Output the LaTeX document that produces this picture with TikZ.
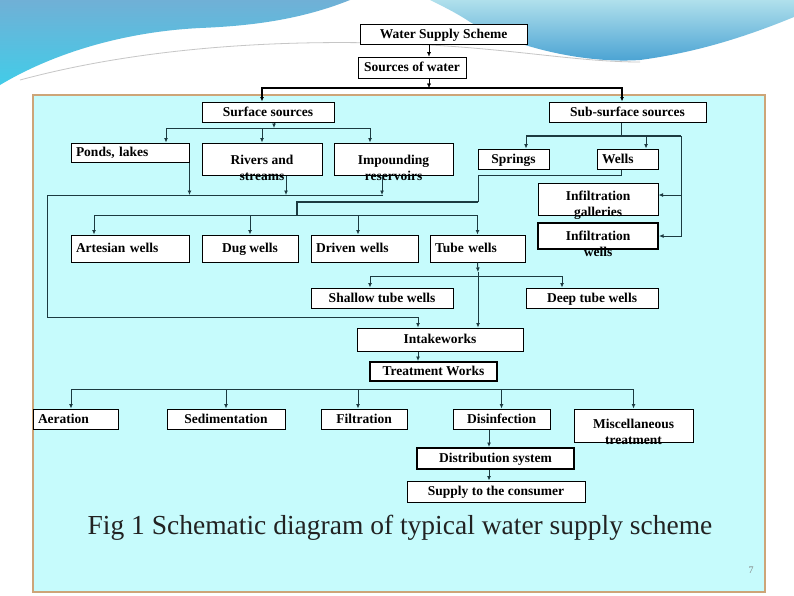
\documentclass[tikz,border=0pt]{standalone}
\usepackage{fontspec}
\setmainfont{Liberation Serif}
\usetikzlibrary{arrows.meta}
\definecolor{skyA}{RGB}{112,176,214}
\definecolor{skyB}{RGB}{66,204,232}
\definecolor{skyC}{RGB}{176,224,236}
\definecolor{skyD}{RGB}{70,160,210}
\definecolor{panel}{RGB}{198,251,252}
\definecolor{rim}{RGB}{205,165,120}
\definecolor{wire}{RGB}{28,58,64}
\definecolor{capcol}{RGB}{34,34,34}
\newcommand\boxfont{\bfseries\fontsize{13.5}{16}\selectfont}
\begin{document}
\begin{tikzpicture}[x=1pt,y=-1pt,
  box/.style={draw, fill=white, line width=1pt, inner sep=0pt, font=\boxfont, text height=8.5pt, text depth=0.5pt},
  lbox/.style={box, align=left, inner xsep=5pt},
  txt/.style={font=\boxfont, align=center, inner sep=0pt},
  heavy/.style={line width=2pt},
  arr/.style={-{Latex[length=4.5pt,width=4pt]}},
  lnk/.style={draw=wire, line width=1pt}]
\useasboundingbox (0,0) rectangle (794,595);
\fill[white] (0,0) rectangle (794,595);
\shade[top color=skyA, bottom color=skyB] (0,0) -- (350,0) .. controls (300,20) and (250,26) .. (200,28) .. controls (120,32) and (50,55) .. (0,85) -- cycle;
\shade[top color=skyC, bottom color=skyD] (430,0) -- (794,0) -- (794,17) .. controls (750,35) and (700,52) .. (640,60) .. controls (580,64) and (510,45) .. (470,22) .. controls (455,12) and (440,5) .. (430,0) -- cycle;
\draw[gray!45, line width=0.8pt] (20,80) .. controls (150,45) and (300,38) .. (430,45) .. controls (520,50) and (580,62) .. (640,62);
\filldraw[fill=panel, draw=rim, line width=2pt] (33,95) rectangle (765,592);
\node[box, minimum width=167pt, minimum height=20pt] (wss) at (443.5,34){Water Supply Scheme};
\node[box, minimum width=108pt, minimum height=21pt] (sow) at (412,67.5){Sources of water};
\node[box, minimum width=132pt, minimum height=20pt] (surf) at (268,112){Surface sources};
\node[box, minimum width=157pt, minimum height=20pt] (sub) at (627.5,112){Sub-surface sources};
\node[lbox, text width=108pt, minimum height=19pt] (pond) at (130,152.5){Ponds, lakes};
\node[box, minimum width=120pt, minimum height=32pt] (riv) at (262,159){};
\node[txt] (rivt) at (262,168){Rivers and\\streams};
\node[box, minimum width=119pt, minimum height=32pt] (imp) at (393.5,159){};
\node[txt] (impt) at (393.5,168){Impounding\\reservoirs};
\node[box, minimum width=71pt, minimum height=20pt] (spr) at (513.5,159){Springs};
\node[lbox, text width=51pt, minimum height=20pt] (well) at (627.5,159){Wells};
\node[box, minimum width=120pt, minimum height=32pt] (igal) at (598,199){};
\node[txt] (igalt) at (598,205){Infiltration\\galleries};
\node[box, heavy, minimum width=120pt, minimum height=26pt] (iwel) at (598,236){};
\node[txt] (iwelt) at (598,244){Infiltration\\wells};
\node[lbox, text width=108pt, minimum height=27pt] (art) at (130,248.5){Artesian wells};
\node[box, minimum width=96pt, minimum height=27pt] (dug) at (250,248.5){Dug wells};
\node[lbox, text width=97pt, minimum height=27pt] (drv) at (364.5,248.5){Driven wells};
\node[lbox, text width=85pt, minimum height=27pt] (tub) at (477.5,248.5){Tube wells};
\node[box, minimum width=142pt, minimum height=20pt] (sht) at (382,298){Shallow tube wells};
\node[box, minimum width=132pt, minimum height=20pt] (dep) at (592,298){Deep tube wells};
\node[box, minimum width=166pt, minimum height=23pt] (itk) at (440,339.5){Intakeworks};
\node[box, heavy, minimum width=127pt, minimum height=19pt] (trt) at (433.5,371.5){Treatment Works};
\node[lbox, text width=75pt, minimum height=20pt] (aer) at (75.5,419){Aeration};
\node[box, minimum width=118pt, minimum height=20pt] (sed) at (226,419){Sedimentation};
\node[box, minimum width=86pt, minimum height=20pt] (fil) at (364,419){Filtration};
\node[box, minimum width=97pt, minimum height=20pt] (dis) at (501.5,419){Disinfection};
\node[box, minimum width=119pt, minimum height=33pt] (mis) at (633.5,425.5){};
\node[txt] (mist) at (633.5,432){Miscellaneous\\treatment};
\node[box, heavy, minimum width=157pt, minimum height=21pt] (dst) at (495.5,458.5){Distribution system};
\node[box, minimum width=178pt, minimum height=21pt] (sup) at (496,491.5){Supply to the consumer};
\coordinate (j0) at (429,88);
\draw[arr] (wss.south -| j0) -- (sow.north -| j0);
\draw[arr] (sow.south -| j0) -- (j0);
\draw[heavy,arr] (j0) -| (surf.north -| 262,0);
\draw[heavy,arr] (j0) -| (sub.north -| 622,0);
\coordinate (j1) at (274,128);
\draw[lnk,arr] (surf.south -| j1) -- (j1);
\draw[lnk,arr] (j1) -| (pond.north -| 166,0);
\draw[lnk,arr] (j1) -| (riv.north);
\draw[lnk,arr] (j1) -| (imp.north -| 370,0);
\coordinate (j2) at (47,195);
\draw[lnk,arr] (pond.south east) -- (pond.south east |- j2);
\draw[lnk,arr] (riv.south -| 286,0) -- (j2 -| 286,0);
\draw[lnk,arr] (imp.south -| 382,0) -- (j2 -| 382,0);
\draw[lnk,arr] (j2 -| 383,0) -- (j2) -- (47,317) -| (itk.north -| 418,0);
\coordinate (j3) at (297,215);
\draw[lnk] (well.south -| 621,0) -- (621,175) -| (478,202);
\draw[lnk,heavy] (478,202) -| (j3);
\draw[lnk,arr] (j3) -| (art.north -| 94,0);
\draw[lnk,arr] (j3) -| (dug.north);
\draw[lnk,arr] (j3) -| (drv.north -| 358,0);
\draw[lnk,arr] (j3) -| (tub.north);
\coordinate (j4) at (621,136);
\draw[lnk] (sub.south -| j4) -- (j4);
\draw[lnk,heavy] (526,136) -- (681,136);
\draw[lnk,arr] (j4) -| (spr.north -| 526,0);
\draw[lnk,arr] (j4) -| (well.north -| 646,0);
\draw[lnk,arr] (j4) -| (681,195) -- (igal.east |- 0,195);
\draw[lnk,arr] (681,195) |- (iwel.east);
\coordinate (j5) at (478,272);
\draw[lnk,arr] (tub.south) -- (j5);
\draw[lnk,arr] (j5) -- (itk.north -| j5);
\draw[lnk,arr] (j5 |- 0,276) -| (sht.north -| 370,0);
\draw[lnk,arr] (j5 |- 0,276) -| (dep.north -| 562,0);
\draw[lnk,arr] (itk.south -| 418,0) -- (trt.north -| 418,0);
\coordinate (j6) at (433.5,389);
\draw[lnk,arr] (j6) -| (aer.north -| 71,0);
\draw[lnk,arr] (j6) -| (sed.north);
\draw[lnk,arr] (j6) -| (fil.north -| 358,0);
\draw[lnk,arr] (j6) -| (dis.north);
\draw[lnk,arr] (j6) -| (mis.north);
\draw[lnk,arr] (dis.south -| 489,0) -- (dst.north -| 489,0);
\draw[lnk,arr] (dst.south -| 489,0) -- (sup.north -| 489,0);
\node[font=\fontsize{27.5}{30}\selectfont, text=capcol] (cap) at (400,528){Fig 1 Schematic diagram of typical water supply scheme};
\node[font=\fontsize{10}{12}\selectfont, text=gray] (pg) at (751,570){7};
\end{tikzpicture}
\end{document}
